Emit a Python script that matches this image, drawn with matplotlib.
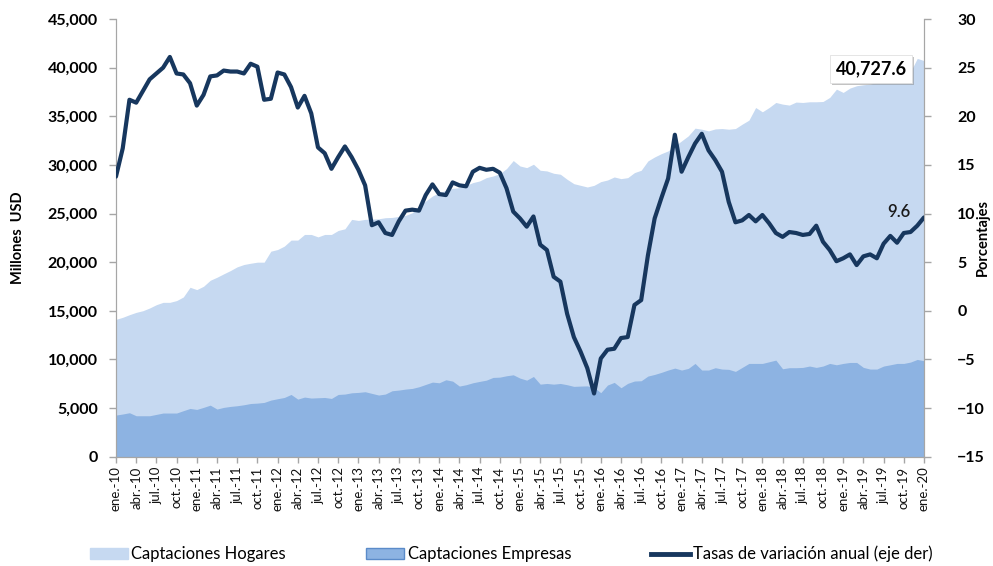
import matplotlib
matplotlib.use('Agg')
import matplotlib.pyplot as plt
import matplotlib.patheffects as pe
from matplotlib.patches import Patch
from matplotlib.lines import Line2D
from matplotlib.ticker import FuncFormatter, MultipleLocator

plt.rcParams['font.family'] = ['Lato', 'DejaVu Sans']

# monthly series, ene.-10 .. ene.-20 (millones USD and %)
hogares = [
    14120, 14330, 14600, 14840, 15010, 15290, 15630, 15870, 15870, 16050,
    16420, 17420, 17180, 17520, 18140, 18450, 18800, 19140, 19520, 19760,
    19890, 20000, 20000, 21130, 21300, 21650, 22270, 22270, 22850, 22850,
    22600, 22850, 22850, 23260, 23430, 24400, 24290, 24400, 24430, 24460,
    24570, 24600, 24700, 24810, 25080, 25770, 26290, 26800, 27140, 27380,
    27590, 27660, 27900, 28180, 28350, 28690, 28860, 29100, 29620, 30450,
    29890, 29720, 30070, 29450, 29380, 29140, 29040, 28520, 28070, 27900,
    27730, 27900, 28280, 28450, 28760, 28590, 28690, 29210, 29450, 30410,
    30820, 31160, 31440, 31950, 32470, 32990, 33780, 33670, 33500, 33700,
    33740, 33670, 33740, 34190, 34600, 35900, 35460, 35900, 36420, 36250,
    36150, 36460, 36420, 36490, 36490, 36520, 36940, 37790, 37450, 37900,
    38140, 38240, 38310, 38480, 38830, 39170, 39340, 39450, 39580, 40950,
    40727.6,
]

empresas = [
    4280, 4390, 4520, 4210, 4210, 4210, 4350, 4490, 4490, 4490,
    4730, 4960, 4860, 5070, 5300, 4900, 5070, 5170, 5240, 5340,
    5470, 5510, 5580, 5820, 5960, 6090, 6400, 5920, 6130, 6030,
    6060, 6090, 5990, 6400, 6440, 6570, 6610, 6680, 6510, 6340,
    6440, 6780, 6850, 6950, 7020, 7190, 7430, 7670, 7600, 7910,
    7770, 7260, 7400, 7600, 7740, 7870, 8150, 8180, 8320, 8420,
    8080, 7870, 8250, 7460, 7530, 7460, 7530, 7400, 7230, 7260,
    7280, 7130, 6580, 7370, 7640, 7090, 7540, 7780, 7810, 8290,
    8460, 8670, 8910, 9110, 8910, 9080, 9590, 8910, 8910, 9150,
    9010, 8980, 8770, 9180, 9590, 9590, 9590, 9760, 9930, 9040,
    9150, 9150, 9180, 9320, 9180, 9320, 9590, 9450, 9590, 9690,
    9690, 9180, 9010, 9010, 9320, 9450, 9590, 9590, 9730, 10000,
    9870,
]

tasa = [
    13.8, 16.7, 21.7, 21.4, 22.6, 23.8, 24.4, 25.0, 26.1, 24.4,
    24.3, 23.4, 21.1, 22.2, 24.1, 24.2, 24.7, 24.6, 24.6, 24.4,
    25.4, 25.1, 21.7, 21.8, 24.5, 24.3, 23.0, 20.9, 22.1, 20.3,
    16.8, 16.2, 14.6, 15.8, 16.9, 15.8, 14.5, 12.9, 8.8, 9.1,
    8.0, 7.8, 9.2, 10.3, 10.4, 10.3, 11.9, 13.0, 12.0, 11.9,
    13.2, 12.9, 12.8, 14.3, 14.7, 14.5, 14.6, 14.2, 12.6, 10.2,
    9.5, 8.65, 9.7, 6.8, 6.25, 3.5, 3.0, -0.3, -2.7, -4.2,
    -5.9, -8.5, -4.9, -4.0, -3.9, -2.8, -2.7, 0.6, 1.1, 5.7,
    9.5, 11.6, 13.6, 18.1, 14.3, 15.8, 17.2, 18.2, 16.5, 15.5,
    14.3, 11.2, 9.1, 9.3, 9.85, 9.2, 9.85, 9.0, 8.0, 7.6,
    8.1, 8.0, 7.8, 7.9, 8.75, 7.1, 6.25, 5.1, 5.4, 5.8,
    4.7, 5.6, 5.8, 5.4, 6.9, 7.7, 7.0, 8.0, 8.1, 8.75,
    9.6,
]

meses = ['ene.', 'abr.', 'jul.', 'oct.']
anios = list(range(10, 21))
tick_labels = [f'{m}-{a}' for a in anios for m in meses][:41]

c_hog = '#C6D9F1'
c_emp = '#8DB3E2'
c_line = '#17375E'
c_axis = '#A6A6A6'

x = list(range(len(hogares)))

fig = plt.figure(figsize=(9.93, 5.66), dpi=100)
ax = fig.add_axes([0.1168, 0.1931, 0.8137, 0.7733])
ax2 = ax.twinx()

ax.fill_between(x, 0, hogares, color=c_hog, lw=0)
ax.fill_between(x, 0, empresas, color=c_emp, lw=0)

ax2.plot(x, tasa, color=c_line, lw=3.0, solid_joinstyle='round',
         solid_capstyle='round', zorder=5)

ax.set_xlim(0, len(hogares) - 1)
ax.set_ylim(0, 45000)
ax2.set_ylim(-15, 30)

ax.yaxis.set_major_locator(MultipleLocator(5000))
ax.yaxis.set_major_formatter(FuncFormatter(lambda v, p: f'{v:,.0f}'))
ax2.yaxis.set_major_locator(MultipleLocator(5))

ax.set_xticks(range(0, len(hogares), 3))
ax.set_xticklabels(tick_labels, rotation=90, fontsize=9.5, color='#111111')

for a in (ax, ax2):
    for s in a.spines.values():
        s.set_color(c_axis)
    a.spines['top'].set_visible(False)
    a.tick_params(color=c_axis, length=5, width=1)

ax.tick_params(axis='y', labelsize=11.5, pad=8)
ax2.tick_params(axis='y', labelsize=11.5, pad=19)
ax.tick_params(axis='x', pad=3, length=4)
for lab in ax.get_yticklabels() + ax2.get_yticklabels():
    lab.set_fontweight('bold')

ax.set_ylabel('Millones  USD', fontsize=10.5, fontweight='bold')
ax2.set_ylabel('Porcentajes', fontsize=10.5, fontweight='bold')
ax.yaxis.set_label_coords(-0.113, 0.5)
ax2.yaxis.set_label_coords(1.0645, 0.5)

# value labels on the last observation
t = ax.annotate(f'{hogares[-1]:,.1f}', xy=(x[-1], hogares[-1]),
                xytext=(-38, -6), textcoords='offset points',
                ha='center', va='center', fontsize=13, fontweight='bold',
                bbox=dict(boxstyle='square,pad=0.3', fc='white', ec='#E0E0E0', lw=0.6),
                zorder=10)
t.get_bbox_patch().set_path_effects([
    pe.withSimplePatchShadow(offset=(1.5, -1.5), shadow_rgbFace='#888888', alpha=0.5)])

ax2.annotate(f'{tasa[-1]:.1f}', xy=(x[-1], tasa[-1]), xytext=(-18, 4),
             textcoords='offset points', ha='center', va='center',
             fontsize=12, fontweight='semibold', color='#1a1a1a', zorder=10)

handles = [
    Patch(facecolor=c_hog, edgecolor=c_hog),
    Patch(facecolor=c_emp, edgecolor='#5B8BC9', lw=1),
    Line2D([0], [0], color=c_line, lw=3.5),
]
labels = ['Captaciones Hogares', 'Captaciones Empresas', 'Tasas de variación anual (eje der)']
fig.legend(handles, labels, loc='center left', bbox_to_anchor=(0.082, 0.021),
           ncol=3, frameon=False, fontsize=12, handlelength=2.3,
           handletextpad=0.2, columnspacing=4.8, borderpad=0)

fig.savefig('out.png', dpi=100)
